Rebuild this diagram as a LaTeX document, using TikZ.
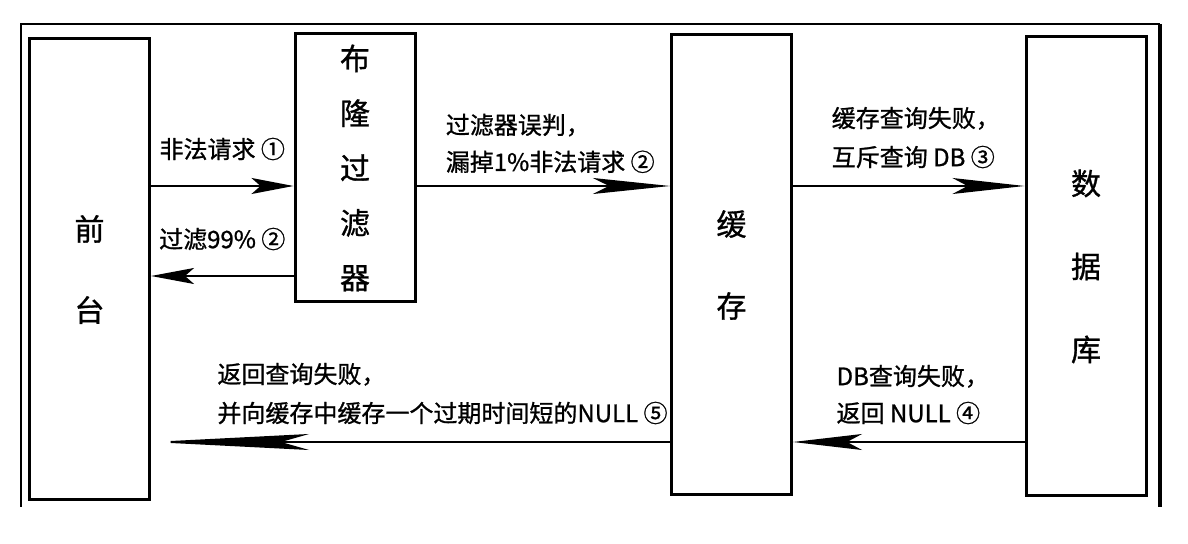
\documentclass[tikz,border=0pt]{standalone}
\usepackage{fontspec}
\setmainfont{Noto Sans CJK SC}[FakeBold=1]
\usetikzlibrary{positioning,arrows.meta}

\tikzset{
  blk/.style={draw, rectangle, line width=1.5pt, minimum width=60pt, align=center, inner sep=0pt},
  arr/.style 2 args={-{Stealth[length=#1, width=8pt, inset=#2]}, line width=1pt},
  lbl/.style={font=\fontsize{12pt}{18.5pt}\selectfont, align=left, inner sep=0pt}
}

\begin{document}
\begin{tikzpicture}[x=0.5pt, y=-0.5pt]
    \useasboundingbox (0,0) rectangle (1188,544);
    %cornice
    \draw[line width=0.6pt] (21,507) -- (21,24) -- (1160,24);
    \draw[line width=2pt] (1160,24) -- (1160,507);

    \node[blk, minimum height=230.5pt, font=\fontsize{15pt}{40.5pt}\selectfont] (FE) at (89.5,269.5) {前\\台};
    \node[blk, minimum height=134pt, font=\fontsize{15pt}{27.4pt}\selectfont] (BF) at (355,168) {布\\隆\\过\\滤\\器};
    \node[blk, minimum height=230pt, font=\fontsize{15pt}{41pt}\selectfont] (Cache) at (731.5,265) {缓\\存};
    \node[blk, minimum height=229.5pt, font=\fontsize{15pt}{41.5pt}\selectfont] (DB) at (1086,266.5) {数\\据\\库};

    %righe delle frecce
    \coordinate (up) at (0,186);
    \coordinate (mid) at (0,276);
    \coordinate (low) at (0,442);

    \draw[arr={21pt}{4.5pt}] (FE.east |- up) -- (BF.west |- up) node[lbl, midway, above=12.4pt] {非法请求 ①};
    \draw[arr={21.5pt}{4.5pt}] (BF.west |- mid) -- (FE.east |- mid) node[lbl, midway, above=12.4pt] {过滤99\% ②};
    \draw[arr={38.5pt}{8pt}] (BF.east |- up) -- (Cache.west |- up) node[lbl, midway, above=6pt, xshift=3.5pt] {过滤器误判，\\漏掉1\%非法请求 ②};
    \draw[arr={36pt}{7.5pt}] (Cache.east |- up) -- (DB.west |- up) node[lbl, midway, above=8.4pt, xshift=3.5pt, font=\fontsize{12pt}{19.5pt}\selectfont] {缓存查询失败，\\互斥查询 DB ③};

    %ritorno
    \draw[arr={34.5pt}{7.5pt}] (DB.west |- low) -- (Cache.east |- low) node[lbl, midway, above=8.4pt, xshift=2pt] {DB查询失败，\\返回 NULL ④};
    \draw[arr={79pt}{14pt}] (Cache.west |- low) -- (FE.east |- low) node[lbl, midway, above=8.4pt, xshift=16pt, font=\fontsize{12pt}{19.5pt}\selectfont] {返回查询失败，\\并向缓存中缓存一个过期时间短的NULL ⑤};
\end{tikzpicture}
\end{document}
